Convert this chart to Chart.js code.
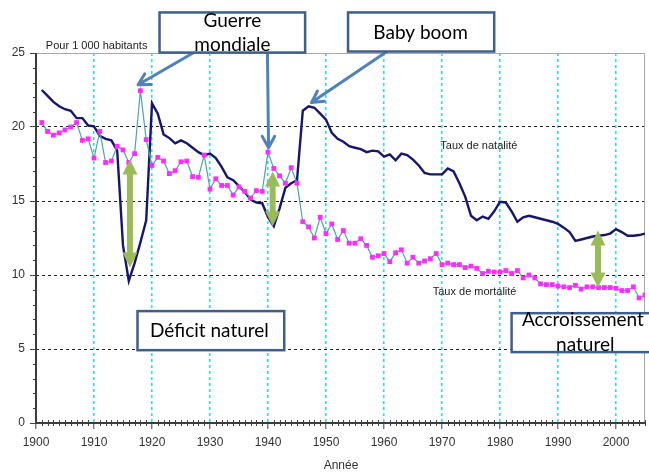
<!DOCTYPE html>
<html lang="fr">
<head>
<meta charset="utf-8">
<title>Taux de natalité et de mortalité</title>
<script src="https://cdn.jsdelivr.net/npm/chart.js@4.4.1/dist/chart.umd.min.js"></script>
<style>
  html, body { margin: 0; padding: 0; background: #fff; }
</style>
</head>
<body>
<canvas id="chart" width="649" height="472"></canvas>
<script>
// annual rates per 1 000 inhabitants, 1901 -> 2005
const firstYear = 1901;
const birthRates = [
  22.5, 22.1, 21.7, 21.4, 21.2, 21.1, 20.6, 20.6, 20.1, 20.05,
  19.4, 19.2, 19.1, 18.4, 12.0, 9.6, 10.8, 12.2, 13.7, 21.6,
  20.9, 19.5, 19.25, 18.9, 19.1, 18.9, 18.6, 18.3, 18.1, 18.2,
  17.9, 17.3, 16.6, 16.4, 16.0, 15.6, 15.1, 14.9, 14.85, 13.9,
  13.3, 14.5, 15.9, 16.2, 16.4, 21.1, 21.4, 21.3, 20.9, 20.5,
  19.6, 19.2, 19.0, 18.7, 18.6, 18.5, 18.3, 18.4, 18.35, 18.0,
  18.15, 17.75, 18.2, 18.1, 17.8, 17.4, 16.9, 16.8, 16.8, 16.8,
  17.2, 17.0, 16.2, 15.3, 14.0, 13.7, 13.95, 13.8, 14.3, 14.95,
  14.9, 14.3, 13.6, 13.9, 14.0, 13.9, 13.8, 13.7, 13.6, 13.45,
  13.2, 12.9, 12.3, 12.4, 12.5, 12.6, 12.65, 12.7, 12.8, 13.1,
  12.9, 12.65, 12.65, 12.7, 12.8
];
const deathRates = [
  20.3, 19.7, 19.45, 19.6, 19.8, 20.0, 20.3, 19.1, 19.2, 17.9,
  19.7, 17.6, 17.7, 18.7, 18.45, 17.6, 18.2, 22.45, 19.15, 17.4,
  17.95, 17.7, 16.85, 17.05, 17.65, 17.7, 16.65, 16.6, 18.1, 15.8,
  16.5, 16.05, 16.05, 15.4, 15.95, 15.65, 15.2, 15.7, 15.65, 18.3,
  17.2, 16.7, 16.2, 17.25, 16.2, 13.6, 13.25, 12.5, 13.9, 12.8,
  13.45, 12.4, 13.0, 12.15, 12.15, 12.45, 12.0, 11.2, 11.3, 11.45,
  10.9, 11.5, 11.7, 10.8, 11.2, 10.8, 10.95, 11.1, 11.45, 10.7,
  10.8, 10.7, 10.7, 10.5, 10.6, 10.45, 10.1, 10.25, 10.2, 10.2,
  10.3, 10.1, 10.3, 9.8, 10.0, 9.8, 9.4, 9.35, 9.35, 9.25,
  9.2, 9.15, 9.3, 9.05, 9.2, 9.2, 9.15, 9.15, 9.15, 9.1,
  8.95, 8.95, 9.2, 8.45, 8.65
];
const xTicks = [1900, 1910, 1920, 1930, 1940, 1950, 1960, 1970, 1980, 1990, 2000];
const yTicks = [0, 5, 10, 15, 20, 25];

const years = birthRates.map((v, i) => firstYear + i);
const toPoints = vals => vals.map((v, i) => ({ x: years[i], y: v }));

// annotations, placed in data units (year, rate)
const blueArrows = [
  { from: [1927.3, 25.05], to: [1917.6, 22.85] },
  { from: [1939.9, 25.05], to: [1940.1, 18.6] },
  { from: [1960.5, 25.1], to: [1947.5, 21.65] }
];
const greenArrows = [
  { x: 1916.2, top: 17.8, bottom: 10.5 },
  { x: 1940.8, top: 17.0, bottom: 13.3 },
  { x: 1996.9, top: 13.0, bottom: 9.15 }
];
const boxes = [
  { x0: 1921.3, x1: 1946.4, y0: 27.74, y1: 25.03, lines: [['Guerre', 1933.85, 27.15], ['mondiale', 1933.85, 25.55]] },
  { x0: 1953.8, x1: 1979.0, y0: 27.74, y1: 25.1, lines: [['Baby boom', 1966.3, 26.38]] },
  { x0: 1917.5, x1: 1942.8, y0: 7.56, y1: 4.92, lines: [['Déficit naturel', 1929.9, 6.2]] },
  { x0: 1982.0, x1: 2007.0, y0: 7.42, y1: 4.79, lines: [['Accroissement', 1994.3, 6.95], ['naturel', 1994.7, 5.26]] }
];
const smallLabels = [
  ['Pour 1 000 habitants', 1901.7, 25.45],
  ['Taux de natalité', 1969.7, 18.75],
  ['Taux de mortalité', 1968.4, 8.83]
];

const axisFont = '"Liberation Sans", Arial, sans-serif';
const boxFont = 'Lato, "Open Sans", sans-serif';

const decorPlugin = {
  id: 'decor',
  beforeDatasetsDraw(chart) {
    const { ctx, chartArea: a, scales: { x, y } } = chart;
    ctx.save();
    // light frame top / right
    ctx.strokeStyle = '#a8a8a8';
    ctx.lineWidth = 1;
    ctx.beginPath();
    ctx.moveTo(a.left, a.top + 0.5); ctx.lineTo(a.right - 0.5, a.top + 0.5);
    ctx.lineTo(a.right - 0.5, a.bottom);
    ctx.stroke();
    // minor ticks
    ctx.strokeStyle = '#444';
    ctx.beginPath();
    for (let v = 1; v < 25; v++) {
      if (v % 5 === 0) continue;
      const py = Math.round(y.getPixelForValue(v)) + 0.5;
      ctx.moveTo(a.left - 3, py); ctx.lineTo(a.left, py);
    }
    for (let yr = 1901; yr <= 2005; yr++) {
      if (yr % 10 === 0) continue;
      const px = Math.round(x.getPixelForValue(yr)) + 0.5;
      ctx.moveTo(px, a.bottom - 3); ctx.lineTo(px, a.bottom + 3);
    }
    ctx.stroke();
    // axis lines
    ctx.strokeStyle = '#3c3c3c';
    ctx.lineWidth = 2;
    ctx.beginPath();
    ctx.moveTo(a.left, a.top); ctx.lineTo(a.left, a.bottom);
    ctx.lineTo(a.right, a.bottom);
    ctx.stroke();
    ctx.restore();
  },
  afterDatasetsDraw(chart) {
    const { ctx, scales: { x, y } } = chart;
    const X = v => x.getPixelForValue(v);
    const Y = v => y.getPixelForValue(v);
    ctx.save();

    // small texts
    ctx.fillStyle = '#222';
    ctx.font = '11px ' + axisFont;
    ctx.textAlign = 'left';
    ctx.textBaseline = 'middle';
    smallLabels.forEach(([t, lx, ly]) => ctx.fillText(t, X(lx), Y(ly)));
    ctx.textAlign = 'center';
    ctx.fillStyle = '#333';
    ctx.font = '12px ' + axisFont;
    ctx.fillText('Année', 341, 466);

    // green double arrows
    ctx.fillStyle = '#9BBB59';
    greenArrows.forEach(g => {
      const cx = X(g.x), t = Y(g.top), b = Y(g.bottom);
      const hw = 7.5, hh = 15, sw = 3;
      ctx.beginPath();
      ctx.moveTo(cx, t);
      ctx.lineTo(cx + hw, t + hh); ctx.lineTo(cx + sw, t + hh);
      ctx.lineTo(cx + sw, b - hh); ctx.lineTo(cx + hw, b - hh);
      ctx.lineTo(cx, b);
      ctx.lineTo(cx - hw, b - hh); ctx.lineTo(cx - sw, b - hh);
      ctx.lineTo(cx - sw, t + hh); ctx.lineTo(cx - hw, t + hh);
      ctx.closePath();
      ctx.fill();
    });

    // blue arrows
    ctx.strokeStyle = '#4F81BD';
    ctx.lineWidth = 3;
    ctx.lineCap = 'round';
    ctx.lineJoin = 'round';
    blueArrows.forEach(ar => {
      const x1 = X(ar.from[0]), y1 = Y(ar.from[1]);
      const x2 = X(ar.to[0]), y2 = Y(ar.to[1]);
      const ang = Math.atan2(y2 - y1, x2 - x1);
      const len = 13, spread = 0.5;
      ctx.beginPath();
      ctx.moveTo(x1, y1); ctx.lineTo(x2, y2);
      ctx.moveTo(x2 - len * Math.cos(ang - spread), y2 - len * Math.sin(ang - spread));
      ctx.lineTo(x2, y2);
      ctx.lineTo(x2 - len * Math.cos(ang + spread), y2 - len * Math.sin(ang + spread));
      ctx.stroke();
    });

    // text boxes
    ctx.lineCap = 'butt';
    ctx.lineJoin = 'miter';
    boxes.forEach(bx => {
      const l = X(bx.x0), r = X(bx.x1), t = Y(bx.y0), b = Y(bx.y1);
      ctx.fillStyle = '#fff';
      ctx.fillRect(l, t, r - l, b - t);
      ctx.strokeStyle = '#3E5F8A';
      ctx.lineWidth = 2.5;
      ctx.strokeRect(l, t, r - l, b - t);
      ctx.fillStyle = '#000';
      ctx.font = '19px ' + boxFont;
      ctx.textAlign = 'center';
      ctx.textBaseline = 'middle';
      bx.lines.forEach(([txt, tx, ty]) => ctx.fillText(txt, X(tx), Y(ty)));
    });
    ctx.restore();
  }
};

new Chart(document.getElementById('chart'), {
  type: 'line',
  data: {
    datasets: [
      {
        label: 'Taux de mortalité',
        data: toPoints(deathRates),
        borderColor: '#4DA5A8',
        borderWidth: 1.2,
        pointStyle: 'rect',
        pointRadius: 3.4,
        pointBackgroundColor: '#FF2BFF',
        pointBorderWidth: 0,
        tension: 0
      },
      {
        label: 'Taux de natalité',
        data: toPoints(birthRates),
        borderColor: '#16166E',
        borderWidth: 2.4,
        pointRadius: 0,
        tension: 0
      }
    ]
  },
  options: {
    responsive: false,
    animation: false,
    layout: { padding: { top: 53, right: 2, left: 0, bottom: 0 } },
    plugins: { legend: { display: false }, tooltip: { enabled: false } },
    scales: {
      x: {
        type: 'linear',
        min: 1900,
        max: 2005,
        afterBuildTicks: s => { s.ticks = xTicks.map(v => ({ value: v })); },
        afterFit: s => { s.height = 49; },
        ticks: {
          color: '#333',
          font: { family: axisFont, size: 12 },
          padding: 6,
          maxRotation: 0,
          autoSkip: false,
          callback: v => String(v)
        },
        grid: {
          color: c => (c.tick && c.tick.value > 1900 ? '#22E4F4' : 'rgba(0,0,0,0)'),
          lineWidth: 1.6,
          tickColor: '#444',
          tickLength: 6,
          tickWidth: 1
        },
        border: { display: false, dash: [3, 3] }
      },
      y: {
        min: 0,
        max: 25,
        afterBuildTicks: s => { s.ticks = yTicks.map(v => ({ value: v })); },
        afterFit: s => { s.width = 36; },
        ticks: {
          color: '#333',
          font: { family: axisFont, size: 12 },
          padding: 5,
          callback: v => String(v)
        },
        grid: {
          color: c => (c.tick && c.tick.value > 0 && c.tick.value < 25 ? '#222' : 'rgba(0,0,0,0)'),
          lineWidth: 1,
          tickColor: '#444',
          tickLength: 6
        },
        border: { display: false, dash: [3, 3] }
      }
    }
  },
  plugins: [decorPlugin]
});
</script>
</body>
</html>
